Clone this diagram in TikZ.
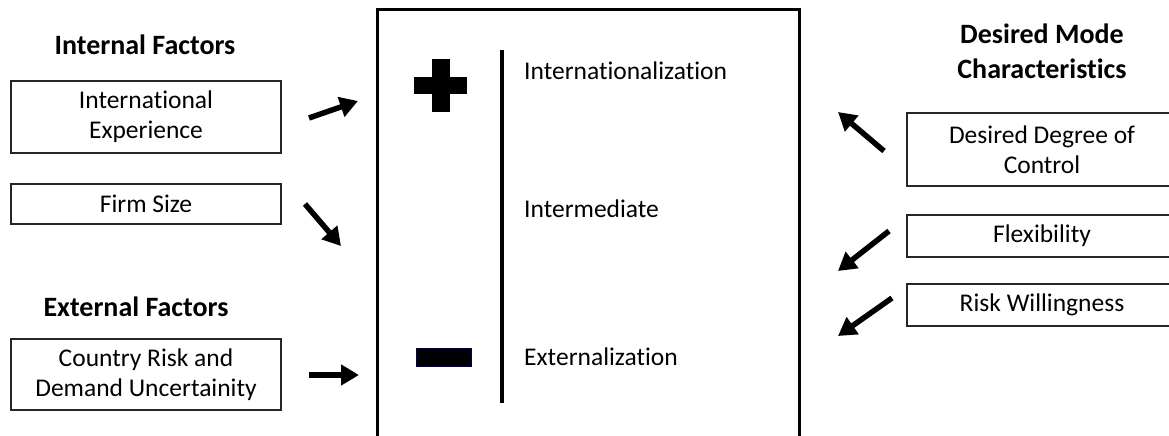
\documentclass[tikz,border=0pt]{standalone}
\usepackage{fontspec}
\setmainfont{Carlito}[RawFeature={-liga}]
\usetikzlibrary{arrows.meta}
\begin{document}
\begin{tikzpicture}[x=1pt,y=-1pt,
  factor/.style={draw=black!85,line width=2pt,minimum width=270pt,align=center,
    inner sep=0pt,font=\fontsize{25.5}{30}\selectfont},
  header/.style={align=center,font=\fontsize{28}{35}\selectfont\bfseries},
  label/.style={anchor=west,inner sep=0pt,font=\fontsize{25.5}{30}\selectfont},
  push/.style={line width=5.5pt,-{Triangle[length=18pt,width=20pt]}},
  frame/.style={line width=3pt}]
\clip (0,0) rectangle (1169,436);
\fill[white] (0,0) rectangle (1169,436);

% left-hand factors
\node[header] (intH) at (145,45) {Internal Factors};
\node[factor,minimum height=72pt] (exp) at (146,117) {International\\Experience};
\node[factor,minimum height=40pt] (size) at (146,204) {Firm Size};
\node[header] (extH) at (136,307) {External Factors};
\node[factor,minimum height=71pt] (risk) at (146,374.5) {Country Risk and\\Demand Uncertainity};

% right-hand characteristics
\node[header] (modeH) at (1042,51) {Desired Mode\\Characteristics};
\node[factor,minimum height=73pt] (ctrl) at (1042,149.5) {Desired Degree of\\Control};
\node[factor,minimum height=42pt] (flex) at (1042,236) {Flexibility};
\node[factor,minimum height=42pt] (will) at (1042,305) {Risk Willingness};

% central frame, open at the bottom
\draw[frame] (377,440) -- (377,10) -- (799,10) -- (799,440);
\draw[line width=3.5pt] (502,50) -- (502,403);

% plus and minus signs
\fill (414,77) rectangle (467,94);
\fill (432,59) rectangle (450,112);
\filldraw[fill=black,draw=blue!40!black,line width=0.6pt] (416,348) rectangle (471,366);

\node[label] (hi) at (524,71) {Internationalization};
\node[label] (mid) at (524,209) {Intermediate};
\node[label] (lo) at (524,357) {Externalization};

% arrow end points
\coordinate (a1) at (309,118);
\coordinate (b1) at (358,101);
\coordinate (a2) at (305,204);
\coordinate (b2) at (341,246);
\coordinate (a3) at (309,375);
\coordinate (b3) at (359,375);
\coordinate (a4) at (884,151);
\coordinate (b4) at (838,112);
\coordinate (a5) at (889,231);
\coordinate (b5) at (838,271);
\coordinate (a6) at (892,298);
\coordinate (b6) at (838,336);

\draw[push] (a1) -- (b1);
\draw[push] (a2) -- (b2);
\draw[push] (a3) -- (b3);
\draw[push] (a4) -- (b4);
\draw[push] (a5) -- (b5);
\draw[push] (a6) -- (b6);
\end{tikzpicture}
\end{document}
